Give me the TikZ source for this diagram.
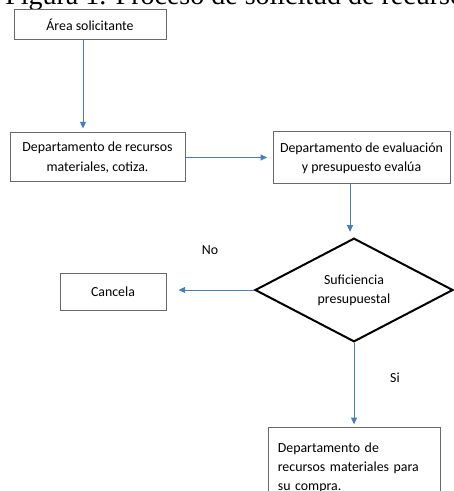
\documentclass[tikz,border=0pt]{standalone}
\usepackage{fontspec}
\setmainfont{Carlito}
\newfontfamily\titulofont{Liberation Serif}
\usetikzlibrary{shapes.geometric,arrows.meta}
\definecolor{azulflecha}{RGB}{74,126,187}
\definecolor{grisborde}{RGB}{105,105,105}
\tikzset{
  caja/.style={draw=grisborde,line width=.75pt,inner sep=0pt,align=center,font=\fontsize{10.4}{14.4}\selectfont},
  flecha/.style={draw=azulflecha,line width=.75pt,-{Triangle[length=5pt,width=4.5pt]}},
  etiqueta/.style={font=\fontsize{10.4}{14.4}\selectfont}
}
\begin{document}
\begin{tikzpicture}[x=.75pt,y=-.75pt]
    \useasboundingbox (0,0) rectangle (453,491);
    % titulo (cortado arriba) ================================
    \node[anchor=base west,inner sep=0pt,font=\titulofont\fontsize{21}{24}\selectfont] (titulo) at (5,5) {Figura 1. Proceso de solicitud de recursos};
    % cajas ===================================================
    \node[caja,minimum width=114pt,minimum height=22.5pt]    (area)    at (90,25)    {Área solicitante};
    \node[caja,minimum width=131.25pt,minimum height=36.75pt] (cotiza)  at (97.5,157.5) {Departamento de recursos\\materiales, cotiza.};
    \node[caja,minimum width=132.75pt,minimum height=39pt]  (evalua)  at (361.5,158) {Departamento de evaluación\\y presupuesto evalúa};
    \node[draw=black,line width=1.5pt,diamond,inner sep=0pt,minimum width=148.5pt,minimum height=70.5pt,align=center,font=\fontsize{10.4}{14.4}\selectfont] (suf) at (354,290) {Suficiencia\\presupuestal};
    \node[caja,minimum width=79.5pt,minimum height=27.75pt]  (cancela) at (113,291.5) {Cancela};
    \node[caja,anchor=north west,align=left,text width=115pt,inner xsep=7pt,inner ysep=6pt,minimum height=60pt] (compra) at (268,427) {Departamento de\\recursos materiales para\\su compra.};
    % flechas =================================================
    \draw[flecha,shorten >=3pt] ([xshift=-5.25pt]area.south) -- ([xshift=-5.25pt]area.south |- cotiza.north);
    \draw[flecha,shorten >=4pt] (cotiza.east) -- (cotiza.east -| evalua.west);
    \draw[flecha,shorten >=4pt] ([xshift=-8.6pt]evalua.south) -- ([xshift=-8.6pt]evalua.south |- suf.north);
    \draw[flecha,shorten >=9pt] (suf.west) -- (suf.west -| cancela.east);
    \draw[flecha,shorten >=2pt] (suf.south) -- (suf.south |- compra.north);
    % etiquetas
    \node[etiqueta] (no) at (210,250) {No};
    \node[etiqueta] (si) at (395,378) {Si};
\end{tikzpicture}
\end{document}
